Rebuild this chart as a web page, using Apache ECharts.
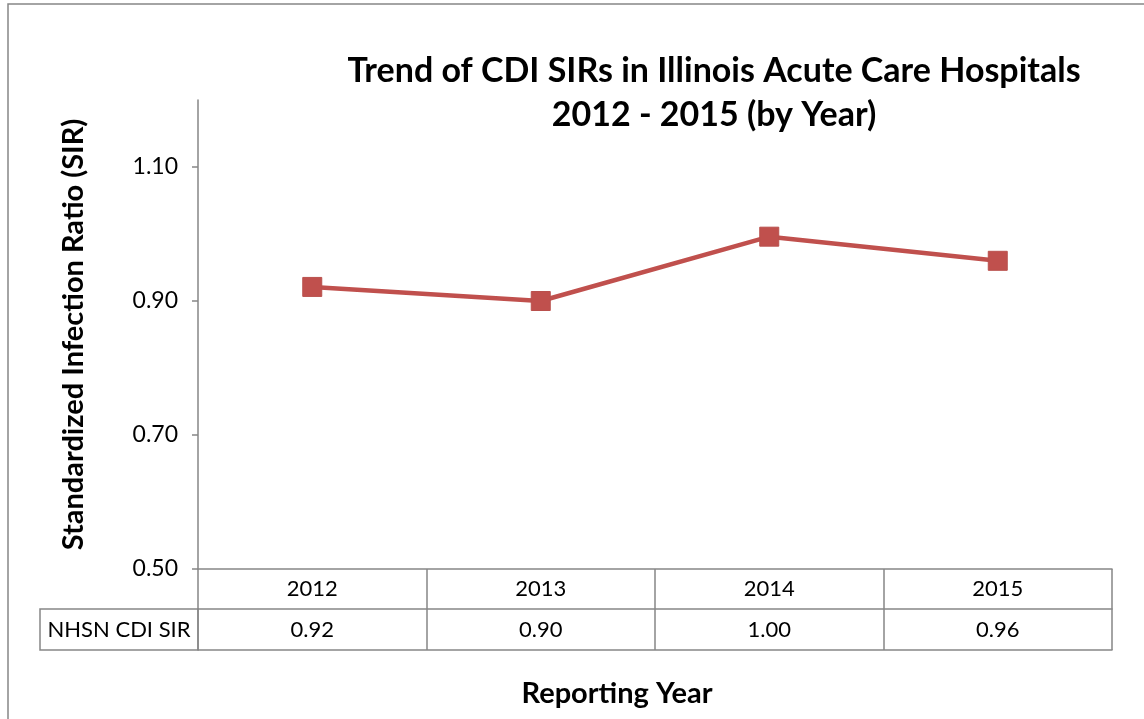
<!DOCTYPE html>
<html>
<head>
<meta charset="utf-8">
<script src="https://cdn.jsdelivr.net/npm/echarts@6/dist/echarts.min.js"></script>
<style>
  html, body { margin: 0; padding: 0; background: #fff; }
  #chart { width: 1144px; height: 719px; }
</style>
</head>
<body>
<div id="chart"></div>
<script>
const categories = ['2012', '2013', '2014', '2015'];
const sirValues = [0.921, 0.900, 0.996, 0.960];
const seriesName = 'NHSN CDI SIR';
const yTickValues = [0.5, 0.7, 0.9, 1.1];
const titleLines = ['Trend of CDI SIRs in Illinois Acute Care Hospitals', '2012 - 2015 (by Year)'];

const FONT = 'Lato, "Open Sans", sans-serif';
const GRID = '#868686';
const chart = echarts.init(document.getElementById('chart'));

chart.setOption({
  backgroundColor: '#fff',
  animation: false,
  title: {
    text: titleLines.join('\n'),
    left: 709, top: 44, textAlign: 'center',
    textStyle: { fontFamily: FONT, fontSize: 34, fontWeight: 'bold', color: '#000', lineHeight: 44 }
  },
  grid: { left: 198, right: 32, top: 100, bottom: 150 },
  xAxis: [
    {
      type: 'category', data: categories, position: 'bottom', boundaryGap: true,
      axisLine: { show: true, lineStyle: { color: GRID, width: 1.5 } },
      axisTick: { show: true, length: 81, inside: false, alignWithLabel: false, lineStyle: { color: GRID, width: 1.5 } },
      axisLabel: { show: true, margin: 9, fontFamily: FONT, fontSize: 22, color: '#000' },
      name: 'Reporting Year', nameLocation: 'middle', nameGap: 110,
      nameTextStyle: { fontFamily: FONT, fontSize: 29, fontWeight: 'bold', color: '#000', padding: [0, 76, 0, 0] }
    },
    {
      type: 'category', data: categories, position: 'bottom', offset: 40,
      axisLine: { show: true, lineStyle: { color: GRID, width: 1.5 } },
      axisTick: { show: false },
      axisLabel: {
        show: true, margin: 10, fontFamily: FONT, fontSize: 22, color: '#000',
        formatter: (v, i) => sirValues[i].toFixed(2)
      }
    },
    {
      type: 'category', data: categories, position: 'bottom', offset: 81,
      axisLine: { show: true, lineStyle: { color: GRID, width: 1.5 } },
      axisTick: { show: false }, axisLabel: { show: false }
    }
  ],
  yAxis: {
    type: 'value', min: 0.5, max: 1.2, interval: 0.2,
    axisLine: { show: true, lineStyle: { color: GRID, width: 1.5 } },
    axisTick: { show: true, length: 6, customValues: yTickValues, lineStyle: { color: GRID, width: 1.5 } },
    axisLabel: {
      customValues: yTickValues, margin: 20, fontFamily: FONT, fontSize: 23, color: '#000',
      formatter: v => v.toFixed(2)
    },
    splitLine: { show: false },
    name: 'Standardized Infection Ratio (SIR)', nameLocation: 'middle', nameGap: 110,
    nameTextStyle: { fontFamily: FONT, fontSize: 29, fontWeight: 'bold', color: '#000' }
  },
  series: [{
    name: seriesName, type: 'line', data: sirValues, xAxisIndex: 0,
    symbol: 'rect', symbolSize: 19,
    lineStyle: { color: '#C0504D', width: 4.5 },
    itemStyle: { color: '#C0504D', borderColor: '#B9504D', borderWidth: 1 }
  }],
  graphic: [
    { type: 'rect', shape: { x: 8, y: 4, width: 1150, height: 730 }, style: { fill: 'none', stroke: GRID, lineWidth: 1.5 }, silent: true },
    { type: 'rect', shape: { x: 40, y: 609, width: 158, height: 41 }, style: { fill: 'none', stroke: GRID, lineWidth: 1.5 }, silent: true },
    { type: 'text', x: 119, y: 630, style: { text: seriesName, fontFamily: FONT, fontSize: 22, fill: '#000', align: 'center', verticalAlign: 'middle' } }
  ]
});
</script>
</body>
</html>
